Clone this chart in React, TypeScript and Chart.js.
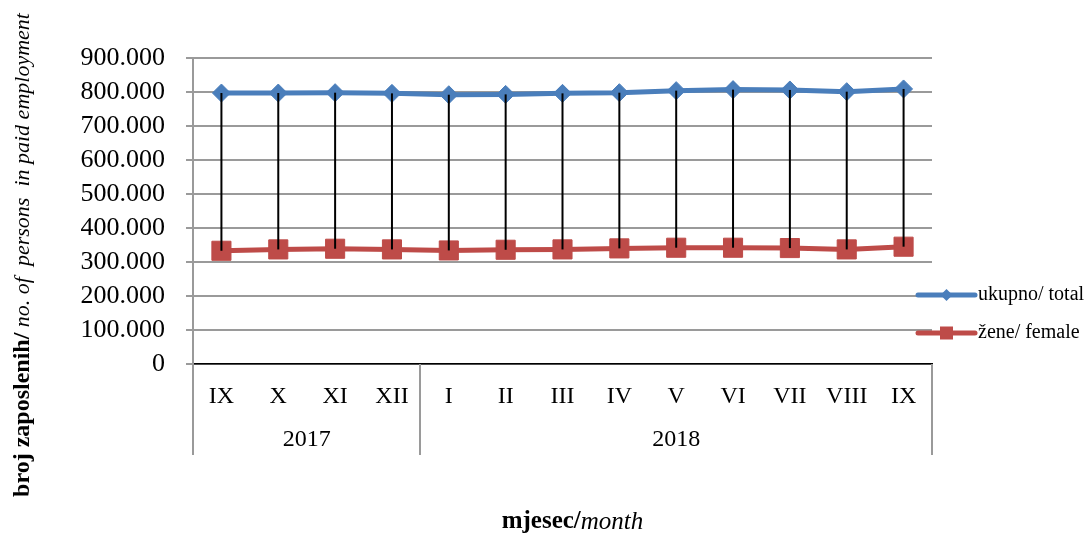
import React, { useEffect, useRef } from "react";
import { Chart, registerables } from "chart.js";

Chart.register(...registerables);

const months = ["IX", "X", "XI", "XII", "I", "II", "III", "IV", "V", "VI", "VII", "VIII", "IX"];
const years = ["2017", "2018"];
const yearMonthCounts = [4, 9];
const totalValues = [797000, 797000, 798000, 796000, 792000, 793000, 796000, 798000, 804000, 807000, 806000, 801000, 809000];
const femaleValues = [333000, 337000, 339000, 337000, 334000, 336000, 337000, 340000, 342000, 342000, 341000, 337000, 345000];
const seriesNames = ["ukupno/ total", "žene/ female"];
const yTitleBold = "broj zaposlenih/";
const yTitleItalic = " no. of  persons  in paid employment";
const xTitleBold = "mjesec/";
const xTitleItalic = "month";

const BLUE = "#4a7ebb";
const RED = "#be4b48";
const GRID = "#9a9a9a";
const SERIF = "'Liberation Serif', serif";

function fmt(v: number): string {
  const s = Math.round(v).toString();
  return s.replace(/\B(?=(\d{3})+(?!\d))/g, ".");
}

const hiLoPlugin = {
  id: "hiLo",
  afterDatasetsDraw(chart: any) {
    const a = chart.getDatasetMeta(0).data;
    const b = chart.getDatasetMeta(1).data;
    const ctx = chart.ctx;
    ctx.save();
    ctx.strokeStyle = "#000";
    ctx.lineWidth = 2;
    for (let i = 0; i < a.length; i++) {
      ctx.beginPath();
      ctx.moveTo(a[i].x, a[i].y);
      ctx.lineTo(b[i].x, b[i].y);
      ctx.stroke();
    }
    ctx.restore();
  },
};

const decorPlugin = {
  id: "decor",
  afterDraw(chart: any) {
    const ctx = chart.ctx;
    const ca = chart.chartArea;
    const xs = chart.scales.x;
    const bottomExt = ca.bottom + 91;
    ctx.save();
    // group separators
    ctx.strokeStyle = GRID;
    ctx.lineWidth = 2;
    let start = 0;
    const bounds: number[] = [ca.left];
    yearMonthCounts.forEach((c) => {
      start += c;
      const last = xs.getPixelForValue(start - 1);
      const half = (xs.getPixelForValue(1) - xs.getPixelForValue(0)) / 2;
      bounds.push(last + half);
    });
    bounds.forEach((bx) => {
      ctx.beginPath();
      ctx.moveTo(Math.round(bx), ca.bottom);
      ctx.lineTo(Math.round(bx), bottomExt);
      ctx.stroke();
    });
    // year labels
    ctx.fillStyle = "#000";
    ctx.font = `24px ${SERIF}`;
    ctx.textAlign = "center";
    ctx.textBaseline = "middle";
    years.forEach((y, i) => {
      ctx.fillText(y, (bounds[i] + bounds[i + 1]) / 2, ca.bottom + 76);
    });
    // x title
    ctx.textAlign = "left";
    ctx.font = `bold 25px ${SERIF}`;
    const wb = ctx.measureText(xTitleBold).width;
    ctx.font = `italic 25px ${SERIF}`;
    const wi = ctx.measureText(xTitleItalic).width;
    const xc = (ca.left + ca.right) / 2 + 10;
    const xt0 = xc - (wb + wi) / 2;
    ctx.font = `bold 25px ${SERIF}`;
    ctx.fillText(xTitleBold, xt0, 522);
    ctx.font = `italic 25px ${SERIF}`;
    ctx.fillText(xTitleItalic, xt0 + wb, 522);
    // y title
    ctx.save();
    ctx.translate(23, 255);
    ctx.rotate(-Math.PI / 2);
    ctx.font = `bold 24px ${SERIF}`;
    const yb = ctx.measureText(yTitleBold).width;
    ctx.font = `italic 22px ${SERIF}`;
    const yi = ctx.measureText(yTitleItalic).width;
    const y0 = -(yb + yi) / 2;
    ctx.font = `bold 24px ${SERIF}`;
    ctx.fillText(yTitleBold, y0, 0);
    ctx.font = `italic 22px ${SERIF}`;
    ctx.fillText(yTitleItalic, y0 + yb, 0);
    ctx.restore();
    // legend
    const lx0 = ca.right - 14;
    const lx1 = ca.right + 43;
    const lm = (lx0 + lx1) / 2;
    const rows = [ca.top + 237, ca.top + 275];
    chart.data.datasets.forEach((ds: any, i: number) => {
      const ly = rows[i];
      ctx.strokeStyle = ds.borderColor;
      ctx.lineWidth = 5;
      ctx.lineCap = "round";
      ctx.beginPath();
      ctx.moveTo(lx0, ly);
      ctx.lineTo(lx1, ly);
      ctx.stroke();
      ctx.fillStyle = ds.borderColor;
      ctx.beginPath();
      if (ds.pointStyle === "rectRot") {
        const r = 6;
        ctx.moveTo(lm - r, ly);
        ctx.lineTo(lm, ly - r);
        ctx.lineTo(lm + r, ly);
        ctx.lineTo(lm, ly + r);
        ctx.closePath();
      } else {
        ctx.rect(lm - 6.5, ly - 6.5, 13, 13);
      }
      ctx.fill();
      ctx.fillStyle = "#000";
      ctx.font = `20px ${SERIF}`;
      ctx.textAlign = "left";
      ctx.textBaseline = "middle";
      ctx.fillText(ds.label, lx1 + 3, ly);
    });
    ctx.restore();
  },
};

export default function App() {
  const ref = useRef<HTMLCanvasElement | null>(null);
  useEffect(() => {
    if (!ref.current) return;
    const chart = new Chart(ref.current, {
      type: "line",
      data: {
        labels: months,
        datasets: [
          {
            label: seriesNames[0],
            data: totalValues,
            borderColor: BLUE,
            backgroundColor: BLUE,
            borderWidth: 5,
            pointStyle: "rectRot",
            pointRadius: 9,
            pointBackgroundColor: BLUE,
            pointBorderColor: BLUE,
            pointBorderWidth: 1,
            tension: 0,
          },
          {
            label: seriesNames[1],
            data: femaleValues,
            borderColor: RED,
            backgroundColor: RED,
            borderWidth: 5,
            pointStyle: "rect",
            pointRadius: 13.5,
            pointBackgroundColor: RED,
            pointBorderColor: RED,
            pointBorderWidth: 1,
            tension: 0,
          },
        ],
      },
      options: {
        animation: false,
        responsive: true,
        maintainAspectRatio: false,
        layout: { padding: { top: 58, right: 159, left: 0, bottom: 0 } },
        plugins: {
          legend: { display: false },
          tooltip: { enabled: false },
        },
        scales: {
          x: {
            type: "category",
            offset: true,
            grid: { display: false, drawTicks: false },
            border: { display: true, color: "#000", width: 1.5 },
            ticks: {
              autoSkip: false,
              maxRotation: 0,
              color: "#000",
              padding: 18,
              font: { family: SERIF, size: 24 },
            },
            afterFit(scale: any) {
              scale.height = 169;
            },
          },
          y: {
            min: 0,
            max: 900000,
            grid: { color: GRID, lineWidth: 2, tickLength: 7, drawTicks: true },
            border: { display: true, color: GRID, width: 2 },
            ticks: {
              stepSize: 100000,
              autoSkip: false,
              maxTicksLimit: 20,
              color: "#000",
              padding: 21,
              font: { family: SERIF, size: 26, lineHeight: 1 },
              callback: (v: any) => fmt(Number(v)),
            },
            afterFit(scale: any) {
              scale.width = 193;
            },
          },
        },
      },
      plugins: [hiLoPlugin, decorPlugin],
    });
    return () => chart.destroy();
  }, []);
  return (
    <div style={{ position: "absolute", left: 0, top: 0, width: 1091, height: 533, background: "#fff" }}>
      <canvas ref={ref} />
    </div>
  );
}
